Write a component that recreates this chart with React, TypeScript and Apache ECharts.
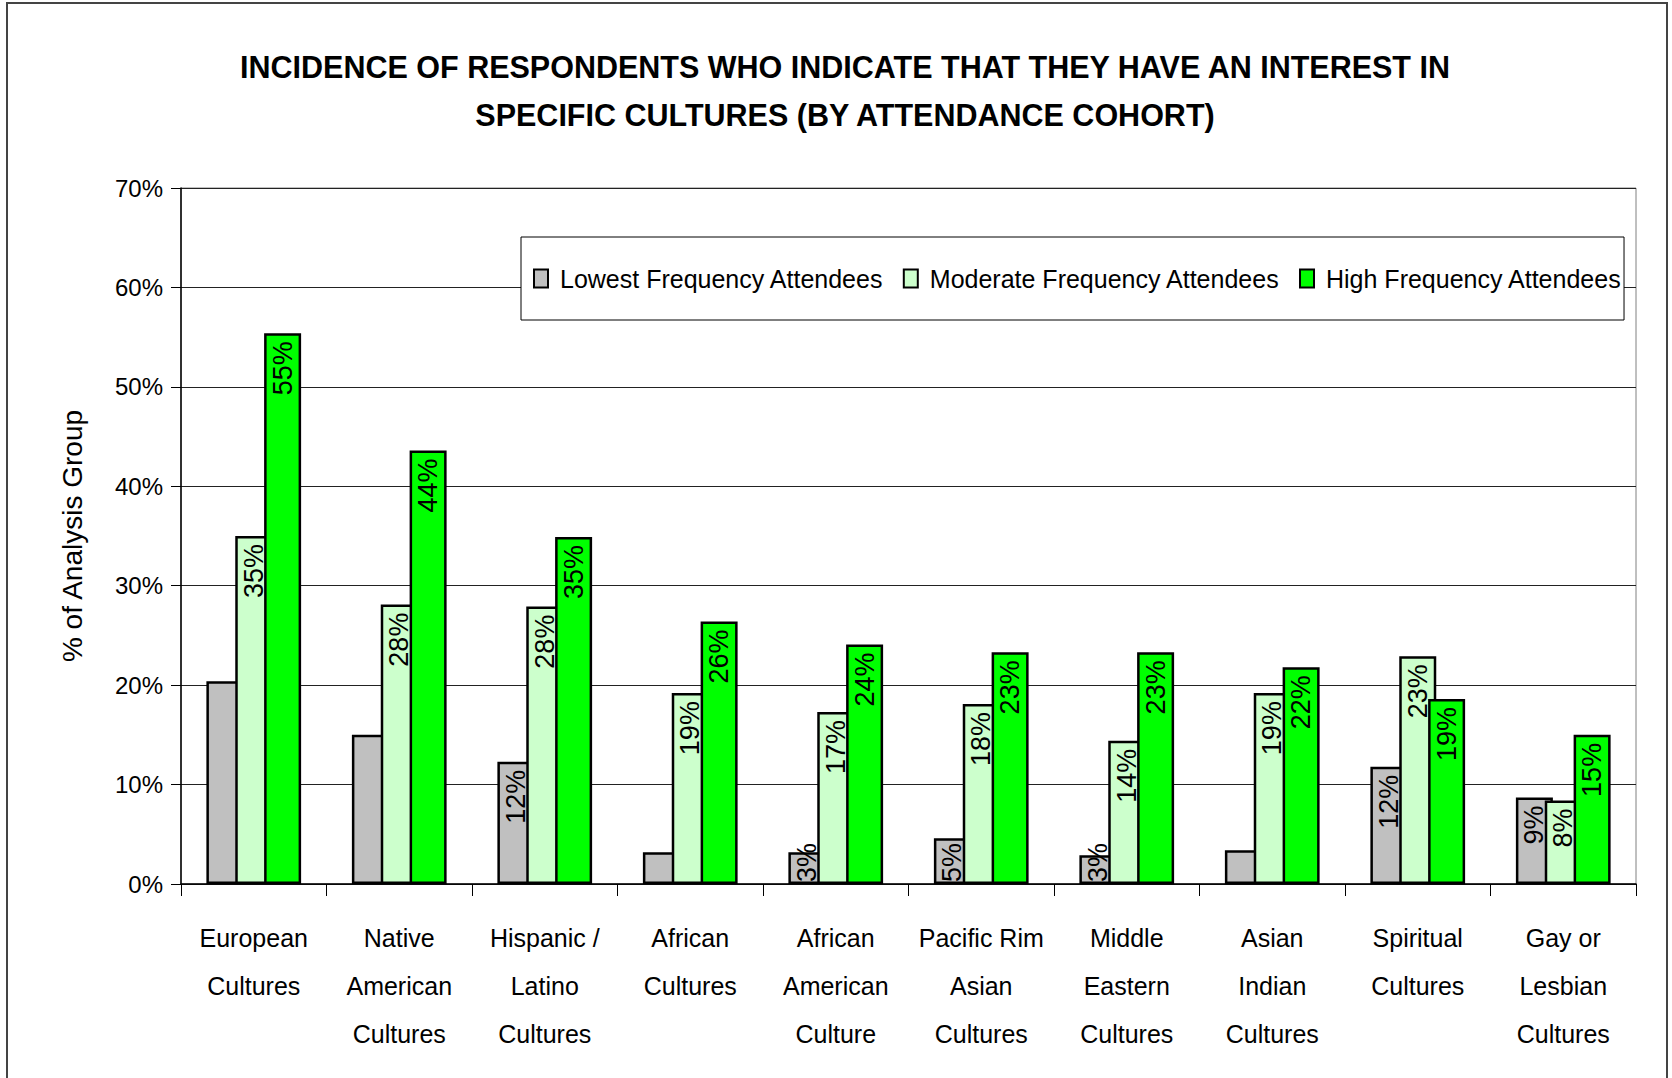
import React, { useEffect, useRef } from "react";
import * as echarts from "echarts";

// Culture categories along the x axis
const categories = [
  "European\nCultures",
  "Native\nAmerican\nCultures",
  "Hispanic /\nLatino\nCultures",
  "African\nCultures",
  "African\nAmerican\nCulture",
  "Pacific Rim\nAsian\nCultures",
  "Middle\nEastern\nCultures",
  "Asian\nIndian\nCultures",
  "Spiritual\nCultures",
  "Gay or\nLesbian\nCultures",
];

const seriesNames = [
  "Lowest Frequency Attendees",
  "Moderate Frequency Attendees",
  "High Frequency Attendees",
];

// Percent of each analysis group
const lowestValues = [20.4, 15.0, 12.3, 3.2, 3.2, 4.6, 2.9, 3.4, 11.8, 8.7];
const moderateValues = [35.0, 28.1, 27.9, 19.2, 17.3, 18.1, 14.4, 19.2, 22.9, 8.4];
const highValues = [55.4, 43.6, 34.9, 26.4, 24.1, 23.3, 23.3, 21.8, 18.6, 15.0];

// Which bars carry a value label
const lowestLabelled = [2, 4, 5, 6, 8, 9];
const moderateLabelled = [0, 1, 2, 3, 4, 5, 6, 7, 8, 9];
const highLabelled = [0, 1, 2, 3, 4, 5, 6, 7, 8, 9];

const yTicks = [0, 10, 20, 30, 40, 50, 60, 70];

const FONT = "'Liberation Sans', Arial, sans-serif";

const colors = ["#C0C0C0", "#CCFFCC", "#00FF00"];

function buildData(values: number[], labelled: number[]) {
  return values.map((v, i) => {
    const show = labelled.indexOf(i) >= 0;
    // short bars hold their label from the base upward
    const short = v < 6;
    return {
      value: v,
      label: {
        show,
        position: short ? "insideBottom" : "insideTop",
        align: short ? "left" : "right",
        distance: short ? 2 : 8,
      },
    };
  });
}

export default function App() {
  const ref = useRef<HTMLDivElement>(null);

  useEffect(() => {
    document.body.style.margin = "0";
    if (!ref.current) return;
    const chart = echarts.init(ref.current, null, { renderer: "svg" });

    const valueSets = [lowestValues, moderateValues, highValues];
    const labelSets = [lowestLabelled, moderateLabelled, highLabelled];

    const series = seriesNames.map((name, k) => ({
      name,
      type: "bar",
      barWidth: 37,
      barGap: "-22%",
      itemStyle: { color: colors[k], borderColor: "#000", borderWidth: 2.5 },
      label: {
        rotate: 90,
        verticalAlign: "middle",
        fontFamily: FONT,
        fontSize: 27,
        color: "#000",
        formatter: (p: any) => Math.round(p.value) + "%",
      },
      data: buildData(valueSets[k], labelSets[k]),
    }));

    chart.setOption({
      animation: false,
      backgroundColor: "#fff",
      title: {
        text: "INCIDENCE OF RESPONDENTS WHO INDICATE THAT THEY HAVE AN INTEREST IN\nSPECIFIC CULTURES (BY ATTENDANCE COHORT)",
        left: 840,
        top: 38,
        textAlign: "center",
        textStyle: {
          fontFamily: FONT,
          fontWeight: "bold",
          fontSize: 30.5,
          lineHeight: 48,
          color: "#000",
        },
      },
      legend: {
        data: seriesNames,
        left: 521,
        top: 237,
        orient: "horizontal",
        backgroundColor: "#fff",
        borderColor: "#000",
        borderWidth: 1,
        padding: [29, 2, 29, 12],
        itemWidth: 14,
        itemHeight: 18,
        itemGap: 19,
        icon: "rect",
        itemStyle: { borderColor: "#000", borderWidth: 2 },
        textStyle: { fontFamily: FONT, fontSize: 25, color: "#000", padding: [0, 0, 0, 7] },
      },
      graphic: [
        {
          type: "rect",
          shape: { x: 7, y: 3, width: 1660, height: 1100 },
          style: { fill: "none", stroke: "#444", lineWidth: 2 },
          silent: true,
        },
      ],
      grid: {
        left: 181,
        top: 188,
        right: 36,
        bottom: 194,
        show: true,
        borderColor: "#808080",
        borderWidth: 1,
        backgroundColor: "transparent",
      },
      xAxis: {
        type: "category",
        data: categories,
        axisLine: { lineStyle: { color: "#000", width: 1.5 } },
        axisTick: { show: true, length: 12, lineStyle: { color: "#000" } },
        axisLabel: {
          fontFamily: FONT,
          fontSize: 25,
          lineHeight: 48,
          color: "#000",
          margin: 30,
          interval: 0,
        },
      },
      yAxis: {
        type: "value",
        min: yTicks[0],
        max: yTicks[yTicks.length - 1],
        interval: 10,
        name: "% of Analysis Group",
        nameLocation: "middle",
        nameRotate: 90,
        nameGap: 95,
        nameTextStyle: { fontFamily: FONT, fontSize: 28, color: "#000" },
        axisLine: { show: true, lineStyle: { color: "#000", width: 1.5 } },
        axisTick: { show: true, length: 10, lineStyle: { color: "#000" } },
        axisLabel: {
          fontFamily: FONT,
          fontSize: 24,
          color: "#000",
          margin: 18,
          formatter: "{value}%",
        },
        splitLine: { lineStyle: { color: "#222", width: 1 } },
      },
      series,
    });

    return () => chart.dispose();
  }, []);

  return <div ref={ref} style={{ width: 1672, height: 1078 }} />;
}
